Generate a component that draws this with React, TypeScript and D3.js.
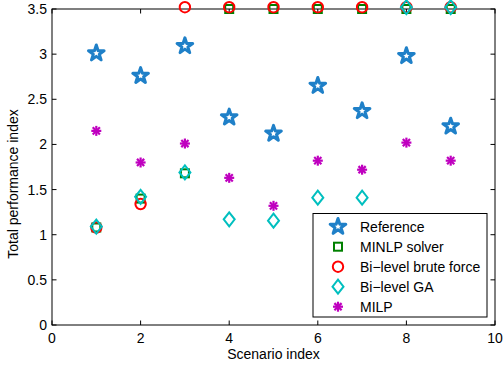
import * as d3 from "d3";

const scenarios = [1, 2, 3, 4, 5, 6, 7, 8, 9];
const reference = [3.01, 2.76, 3.09, 2.3, 2.12, 2.65, 2.37, 2.98, 2.2];
const minlp = [1.08, 1.4, 1.68, 3.5, 3.5, 3.5, 3.5, 3.5, 3.5];
const bruteForce = [1.08, 1.34, 3.52, 3.52, 3.52, 3.52, 3.52, 3.52, 3.52];
const biGA = [1.09, 1.42, 1.69, 1.17, 1.155, 1.41, 1.41, 3.52, 3.52];
const milp = [2.15, 1.8, 2.01, 1.63, 1.32, 1.82, 1.72, 2.02, 1.82];

const xTicks = [0, 2, 4, 6, 8, 10];
const yTicks = [0, 0.5, 1, 1.5, 2, 2.5, 3, 3.5];

const W = 504;
const H = 369;
const left = 52;
const right = 495;
const top = 9;
const bottom = 325;
const FONT = "'Liberation Sans', Arial, Helvetica, sans-serif";

const x = d3.scaleLinear().domain([0, 10]).range([left, right]);
const y = d3.scaleLinear().domain([0, 3.5]).range([bottom, top]);

type Kind = "star" | "square" | "circle" | "diamond" | "asterisk";

const COLORS: Record<Kind, string> = {
  star: "#1f80c8",
  square: "#008000",
  circle: "#ff0000",
  diamond: "#00bfbf",
  asterisk: "#bf00bf",
};

function starPath(R: number) {
  const r = R * 0.382;
  const pts: [number, number][] = [];
  for (let i = 0; i < 10; i++) {
    const a = (Math.PI / 5) * i - Math.PI / 2;
    const rad = i % 2 === 0 ? R : r;
    pts.push([rad * Math.cos(a), rad * Math.sin(a)]);
  }
  return d3.line()(pts) + "Z";
}

function Marker({ kind, cx, cy }: { kind: Kind; cx: number; cy: number }) {
  const c = COLORS[kind];
  const t = `translate(${cx},${cy})`;
  if (kind === "star")
    return <path d={starPath(8.2)} transform={t} fill="none" stroke={c} strokeWidth={3} strokeLinejoin="round" />;
  if (kind === "square")
    return <rect x={cx - 4} y={cy - 4} width={8} height={8} fill="none" stroke={c} strokeWidth={2} />;
  if (kind === "circle")
    return <circle cx={cx} cy={cy} r={5.2} fill="none" stroke={c} strokeWidth={2} />;
  if (kind === "diamond")
    return <path d="M0,-7L5.5,0L0,7L-5.5,0Z" transform={t} fill="none" stroke={c} strokeWidth={2} />;
  const s = 5;
  const d = s * 0.72;
  return (
    <g transform={t} stroke={c} strokeWidth={2.2}>
      <line x1={-s} y1={0} x2={s} y2={0} />
      <line x1={0} y1={-s} x2={0} y2={s} />
      <line x1={-d} y1={-d} x2={d} y2={d} />
      <line x1={-d} y1={d} x2={d} y2={-d} />
    </g>
  );
}

const series: { name: string; kind: Kind; values: number[] }[] = [
  { name: "Reference", kind: "star", values: reference },
  { name: "MINLP solver", kind: "square", values: minlp },
  { name: "Bi\u2212level brute force", kind: "circle", values: bruteForce },
  { name: "Bi\u2212level GA", kind: "diamond", values: biGA },
  { name: "MILP", kind: "asterisk", values: milp },
];

export default function App() {
  const tick = 4.5;
  return (
    <div style={{ position: "absolute", left: 0, top: 0 }}>
      <svg width={W} height={H} style={{ display: "block", background: "#fff" }} fontFamily={FONT}>
        {/* axes box */}
        <rect x={left} y={top} width={right - left} height={bottom - top} fill="none" stroke="#000" strokeWidth={1} />
        {xTicks.map((v) => (
          <g key={"x" + v}>
            <line x1={x(v)} x2={x(v)} y1={bottom} y2={bottom - tick} stroke="#000" />
            <line x1={x(v)} x2={x(v)} y1={top} y2={top + tick} stroke="#000" />
            <text x={x(v)} y={343} textAnchor="middle" fontSize={14} fill="#000">
              {v}
            </text>
          </g>
        ))}
        {yTicks.map((v) => (
          <g key={"y" + v}>
            <line x1={left} x2={left + tick} y1={y(v)} y2={y(v)} stroke="#000" />
            <line x1={right} x2={right - tick} y1={y(v)} y2={y(v)} stroke="#000" />
            <text x={47} y={y(v) + 5} textAnchor="end" fontSize={14} fill="#000">
              {v}
            </text>
          </g>
        ))}
        <text x={(left + right) / 2} y={359} textAnchor="middle" fontSize={14} fill="#000">
          Scenario index
        </text>
        <text transform="translate(18,184) rotate(-90)" textAnchor="middle" fontSize={14} fill="#000">
          Total performance index
        </text>

        {/* data */}
        {series.map((s) => (
          <g key={s.name}>
            {s.values.map((v, i) => (
              <Marker key={i} kind={s.kind} cx={x(scenarios[i])} cy={y(v)} />
            ))}
          </g>
        ))}

        {/* legend */}
        <rect x={313} y={213.5} width={174} height={103.5} fill="#fff" stroke="#000" strokeWidth={1} />
        {series.map((s, i) => {
          const ry = 226.7 + i * 20;
          return (
            <g key={"l" + s.name}>
              <Marker kind={s.kind} cx={338} cy={ry} />
              <text x={360} y={ry + 5} fontSize={14} fill="#000">
                {s.name}
              </text>
            </g>
          );
        })}
      </svg>
    </div>
  );
}
